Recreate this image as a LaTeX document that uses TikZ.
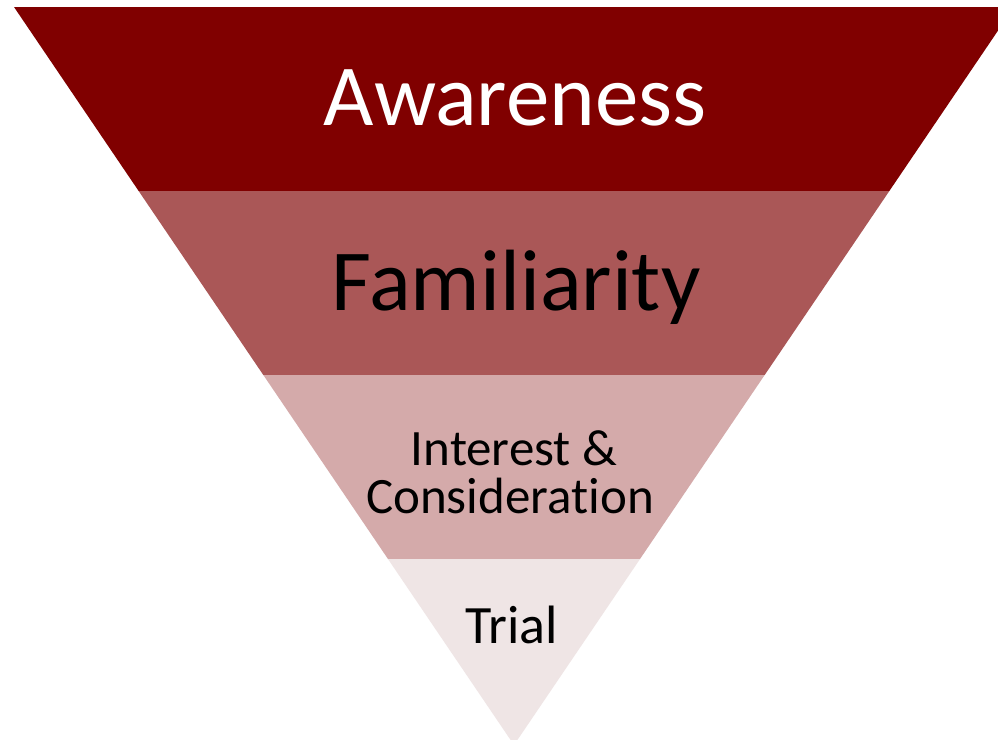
\documentclass[tikz,border=0pt]{standalone}
\usepackage{fontspec}
\setmainfont[Ligatures={NoCommon,NoRequired,NoContextual}]{Carlito}
\definecolor{bandA}{RGB}{128,0,0}
\definecolor{bandB}{RGB}{170,87,87}
\definecolor{bandC}{RGB}{212,170,170}
\definecolor{bandD}{RGB}{239,229,229}
\tikzset{
  biglabel/.style={anchor=base, inner sep=0pt, font=\fontsize{87}{100}\selectfont},
  smalllabel/.style={anchor=base, inner sep=0pt, font=\fontsize{51}{60}\selectfont, text=black},
}
\begin{document}
\begin{tikzpicture}[x=1pt,y=-1pt]
\useasboundingbox (0,0) rectangle (998,739);
\fill[white] (0,0) rectangle (998,739);
\begin{scope}
  \clip (0,0) rectangle (998,739);
  \clip (14,7) -- (1014,7) -- (514,745) -- cycle;
  \fill[bandA] (0,7) rectangle (1020,190.5);
  \fill[bandB] (0,190.5) rectangle (1020,375);
  \fill[bandC] (0,375) rectangle (1020,558.5);
  \fill[bandD] (0,558.5) rectangle (1020,750);
\end{scope}
\node[biglabel, text=white] (awareness) at (515,125) {Awareness};
\node[biglabel, text=black] (familiarity) at (516,310) {Familiarity};
\node[smalllabel] (interest) at (514,465) {Interest \&};
\node[smalllabel] (consideration) at (510,513) {Considerat\kern0pt ion};
\node[smalllabel, font=\fontsize{54}{60}\selectfont] (trial) at (512,643) {Trial};
\end{tikzpicture}
\end{document}
